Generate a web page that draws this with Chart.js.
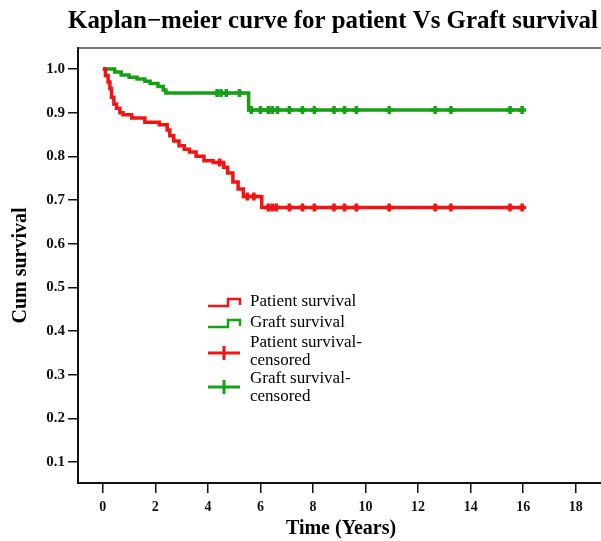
<!DOCTYPE html>
<html>
<head>
<meta charset="utf-8">
<script src="https://cdn.jsdelivr.net/npm/chart.js@4/dist/chart.umd.min.js"></script>
<style>
  html, body { margin: 0; padding: 0; background: #fff; overflow: hidden; }
</style>
</head>
<body>
<canvas id="km" width="620" height="541"></canvas>
<script>
// Kaplan-Meier steps (time in years, cumulative survival)
const patientTimes = [0, 0.1, 0.2, 0.27, 0.33, 0.42, 0.52, 0.65, 0.77, 1.1, 1.6, 2.15, 2.45, 2.55, 2.7, 2.9, 3.1, 3.3, 3.55, 3.85, 4.2, 4.6, 4.75, 4.95, 5.15, 5.35, 6.05, 15.96];
const patientSurv  = [1.0, 0.985, 0.97, 0.955, 0.935, 0.92, 0.91, 0.9, 0.895, 0.888, 0.878, 0.872, 0.86, 0.847, 0.835, 0.824, 0.816, 0.81, 0.8, 0.79, 0.786, 0.775, 0.762, 0.741, 0.725, 0.708, 0.683, 0.683];

const graftTimes = [0, 0.45, 0.7, 1.0, 1.3, 1.6, 1.8, 2.1, 2.3, 2.4, 5.55, 15.96];
const graftSurv  = [1.0, 0.993, 0.986, 0.981, 0.977, 0.972, 0.967, 0.96, 0.952, 0.945, 0.906, 0.906];

// censoring times (plotted as + marks on each curve)
const patientCensored = [4.45, 5.5, 5.75, 6.3, 6.45, 6.6, 7.1, 7.6, 8.05, 8.8, 9.2, 9.65, 10.9, 12.65, 13.25, 15.5, 15.96];
const graftCensored   = [4.35, 4.5, 4.7, 5.2, 5.65, 6.0, 6.3, 6.45, 6.65, 7.1, 7.6, 8.05, 8.8, 9.2, 9.65, 10.9, 12.65, 13.25, 15.5, 15.96];

const xTicks = [0, 2, 4, 6, 8, 10, 12, 14, 16, 18];
const yTicks = [0.1, 0.2, 0.3, 0.4, 0.5, 0.6, 0.7, 0.8, 0.9, 1.0];

const seriesNames = ['Patient survival', 'Graft survival', 'Patient survival-censored', 'Graft survival-censored'];
const chartTitle = 'Kaplan\u2212meier curve for patient Vs Graft survival';
const xTitle = 'Time (Years)';
const yTitle = 'Cum survival';

const RED = '#f01414';
const GREEN = '#17a017';
const SERIF = '"Liberation Serif", "DejaVu Serif", serif';

function toPoints(times, surv) {
  return times.map((t, i) => ({ x: t, y: surv[i] }));
}

function survivalAt(times, surv, t) {
  let s = surv[0];
  for (let i = 0; i < times.length; i++) {
    if (times[i] <= t) s = surv[i];
  }
  return s;
}

function censorPoints(cens, times, surv) {
  return cens.map(t => ({ x: t, y: survivalAt(times, surv, t) }));
}

// title, x-axis title, top frame line and legend
const decorations = {
  id: 'decorations',
  afterDraw(chart) {
    const { ctx, chartArea: a } = chart;
    ctx.save();

    ctx.strokeStyle = '#444';
    ctx.lineWidth = 1.5;
    ctx.beginPath();
    ctx.moveTo(a.left, a.top);
    ctx.lineTo(a.right, a.top);
    ctx.stroke();

    ctx.fillStyle = '#000';
    ctx.textAlign = 'center';
    ctx.textBaseline = 'middle';
    // title stretched to the width it has in the picture
    ctx.font = 'bold 22px ' + SERIF;
    const size = Math.min(26, 22 * 530 / ctx.measureText(chartTitle).width);
    ctx.font = 'bold ' + size.toFixed(1) + 'px ' + SERIF;
    ctx.fillText(chartTitle, 333, 22);

    ctx.font = 'bold 20px ' + SERIF;
    ctx.fillText(xTitle, 341, 529);

    // legend
    const x0 = 208;
    const tx = 250;
    ctx.textAlign = 'left';
    ctx.font = '17px ' + SERIF;
    ctx.lineJoin = 'miter';

    const stepIcon = (cy, color) => {
      ctx.strokeStyle = color;
      ctx.lineWidth = 2.5;
      ctx.beginPath();
      ctx.moveTo(x0, cy + 4);
      ctx.lineTo(x0 + 20, cy + 4);
      ctx.lineTo(x0 + 20, cy - 3);
      ctx.lineTo(x0 + 32, cy - 3);
      ctx.lineTo(x0 + 32, cy + 3);
      ctx.stroke();
    };
    const crossIcon = (cy, color) => {
      ctx.strokeStyle = color;
      ctx.lineWidth = 3;
      ctx.beginPath();
      ctx.moveTo(x0, cy);
      ctx.lineTo(x0 + 32, cy);
      ctx.moveTo(x0 + 16, cy - 7);
      ctx.lineTo(x0 + 16, cy + 7);
      ctx.stroke();
    };

    stepIcon(302, RED);
    ctx.fillText(seriesNames[0], tx, 302);
    stepIcon(323, GREEN);
    ctx.fillText(seriesNames[1], tx, 323);
    crossIcon(353, RED);
    ctx.fillText('Patient survival-', tx, 343);
    ctx.fillText('censored', tx, 361);
    crossIcon(387, GREEN);
    ctx.fillText('Graft survival-', tx, 379);
    ctx.fillText('censored', tx, 397);

    ctx.restore();
  }
};

new Chart(document.getElementById('km'), {
  type: 'scatter',
  data: {
    datasets: [
      {
        label: seriesNames[0],
        data: toPoints(patientTimes, patientSurv),
        showLine: true,
        stepped: 'before',
        borderColor: RED,
        borderWidth: 3.5,
        pointRadius: 0
      },
      {
        label: seriesNames[1],
        data: toPoints(graftTimes, graftSurv),
        showLine: true,
        stepped: 'before',
        borderColor: GREEN,
        borderWidth: 3.5,
        pointRadius: 0
      },
      {
        label: seriesNames[2],
        data: censorPoints(patientCensored, patientTimes, patientSurv),
        showLine: false,
        pointStyle: 'cross',
        pointRadius: 4,
        borderColor: RED,
        backgroundColor: RED,
        pointBorderWidth: 3.5
      },
      {
        label: seriesNames[3],
        data: censorPoints(graftCensored, graftTimes, graftSurv),
        showLine: false,
        pointStyle: 'cross',
        pointRadius: 4,
        borderColor: GREEN,
        backgroundColor: GREEN,
        pointBorderWidth: 3.5
      }
    ]
  },
  options: {
    responsive: false,
    animation: false,
    devicePixelRatio: 1,
    layout: { padding: { top: 48, right: 4, left: 0, bottom: 0 } },
    plugins: {
      legend: { display: false },
      tooltip: { enabled: false },
      title: { display: false }
    },
    scales: {
      x: {
        type: 'linear',
        min: -0.945,
        max: 19.4,
        afterBuildTicks: s => { s.ticks = xTicks.map(v => ({ value: v })); },
        afterFit: s => { s.height = 58; },
        grid: {
          drawOnChartArea: false,
          drawTicks: true,
          tickLength: 10,
          color: '#111',
          lineWidth: 1.5
        },
        border: { display: true, color: '#111', width: 2 },
        ticks: {
          color: '#111',
          padding: 6,
          maxRotation: 0,
          font: { family: SERIF, size: 14, weight: 'bold' }
        }
      },
      y: {
        type: 'linear',
        min: 0.052,
        max: 1.048,
        afterBuildTicks: s => { s.ticks = yTicks.map(v => ({ value: v })); },
        afterFit: s => { s.width = 78; },
        grid: {
          drawOnChartArea: false,
          drawTicks: true,
          tickLength: 10,
          color: '#111',
          lineWidth: 1.5
        },
        border: { display: true, color: '#111', width: 2 },
        ticks: {
          color: '#111',
          padding: 3,
          callback: v => v.toFixed(1),
          font: { family: SERIF, size: 15, weight: 'bold' }
        },
        title: {
          display: true,
          text: yTitle,
          color: '#000',
          padding: { top: 9, bottom: 0 },
          font: { family: SERIF, size: 20, weight: 'bold' }
        }
      }
    }
  },
  plugins: [decorations]
});
</script>
</body>
</html>
